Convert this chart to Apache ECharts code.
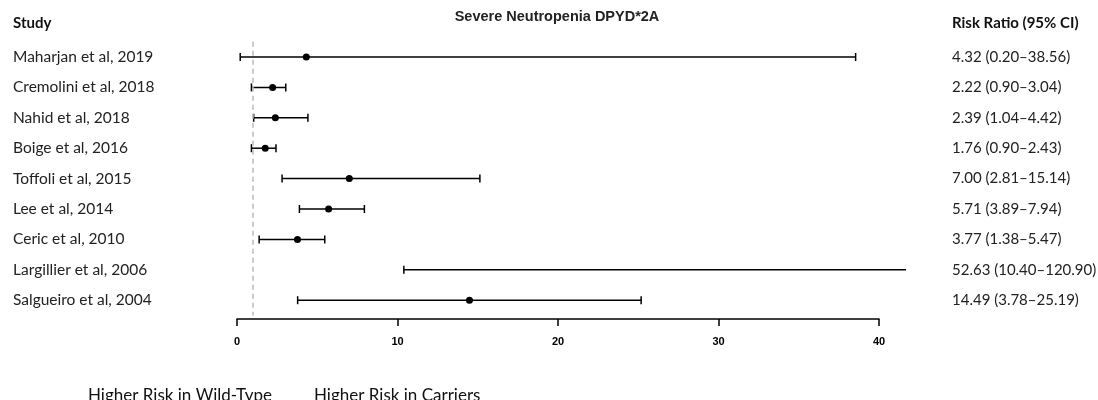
<!DOCTYPE html>
<html><head><meta charset="utf-8">
<script src="https://cdn.jsdelivr.net/npm/echarts@6/dist/echarts.min.js"></script>
<style>html,body{margin:0;padding:0;background:#fff}#c{width:1098px;height:400px}</style>
</head><body><div id="c"></div>
<script>
const studies = ["Maharjan et al, 2019","Cremolini et al, 2018","Nahid et al, 2018","Boige et al, 2016","Toffoli et al, 2015","Lee et al, 2014","Ceric et al, 2010","Largillier et al, 2006","Salgueiro et al, 2004"];
const riskRatio = [4.32, 2.22, 2.39, 1.76, 7.00, 5.71, 3.77, 52.63, 14.49];
const ciLower = [0.20, 0.90, 1.04, 0.90, 2.81, 3.89, 1.38, 10.40, 3.78];
const ciUpper = [38.56, 3.04, 4.42, 2.43, 15.14, 7.94, 5.47, 120.90, 25.19];
const ciLabels = ["4.32 (0.20\u201338.56)","2.22 (0.90\u20133.04)","2.39 (1.04\u20134.42)","1.76 (0.90\u20132.43)","7.00 (2.81\u201315.14)","5.71 (3.89\u20137.94)","3.77 (1.38\u20135.47)","52.63 (10.40\u2013120.90)","14.49 (3.78\u201325.19)"];
const xTicks = [0, 10, 20, 30, 40];
const plotMax = 41.7;   // visible extent of the CI lines
const refValue = 1;

const calibri = "Lato, 'Open Sans', sans-serif";
const data = studies.map((s, i) => [i, riskRatio[i], ciLower[i], ciUpper[i]]);

const chart = echarts.init(document.getElementById('c'), null, {renderer: 'canvas'});
chart.setOption({
  animation: false,
  backgroundColor: '#fff',
  title: [
    {text: 'Severe Neutropenia DPYD*2A', left: 557, top: 9, padding: 0, textAlign: 'center',
     textStyle: {fontFamily: "'Liberation Sans', Arial, sans-serif", fontWeight: 'bold', fontSize: 14.5, color: '#222'}},
    {text: 'Study', left: 13, top: 16, padding: 0, textStyle: {fontFamily: calibri, fontWeight: 'bold', fontSize: 15, color: '#111'}},
    {text: 'Risk Ratio (95% CI)', left: 952, top: 16, padding: 0, textStyle: {fontFamily: calibri, fontWeight: 'bold', fontSize: 15, color: '#111'}}
  ],
  graphic: [
    {type: 'text', left: 88, top: 387, style: {text: 'Higher Risk in Wild-Type', font: "17px Lato, 'Open Sans', sans-serif", fill: '#111'}},
    {type: 'text', left: 314, top: 387, style: {text: 'Higher Risk in Carriers', font: "17px Lato, 'Open Sans', sans-serif", fill: '#111'}}
  ],
  grid: [
    {left: 237, width: 669, top: 41.8, height: 273.6, outerBoundsMode: 'none', containLabel: false},
    {left: 237, width: 642, top: 300, height: 19, outerBoundsMode: 'none', containLabel: false}
  ],
  xAxis: [
    {gridIndex: 0, type: 'value', min: 0, max: plotMax, show: false},
    {gridIndex: 1, type: 'value', min: xTicks[0], max: xTicks[xTicks.length - 1], interval: 10,
     axisLine: {show: true, lineStyle: {color: '#000', width: 1.5}},
     axisTick: {show: true, length: 7, inside: false, lineStyle: {color: '#000', width: 1.5}},
     axisLabel: {margin: 17, fontFamily: "'Liberation Sans', Arial, sans-serif", fontWeight: 'bold', fontSize: 11, color: '#000'},
     splitLine: {show: false}}
  ],
  yAxis: [
    {gridIndex: 0, type: 'category', data: studies, inverse: true, position: 'left',
     axisLine: {show: false}, axisTick: {show: false}, splitLine: {show: false},
     axisLabel: {align: 'left', margin: 224, fontFamily: calibri, fontSize: 15.5, color: '#222'}},
    {gridIndex: 0, type: 'category', data: ciLabels, inverse: true, position: 'right',
     axisLine: {show: false}, axisTick: {show: false}, splitLine: {show: false},
     axisLabel: {align: 'left', margin: 46, fontFamily: calibri, fontSize: 15, color: '#222'}},
    {gridIndex: 1, type: 'value', show: false, min: 0, max: 1}
  ],
  series: [{
    type: 'custom',
    xAxisIndex: 0, yAxisIndex: 0,
    data: data,
    clip: false,
    renderItem: function (params, api) {
      const idx = api.value(0), rr = api.value(1), lo = api.value(2), hi = api.value(3);
      const y = api.coord([0, idx])[1];
      const loC = Math.max(lo, 0), hiC = Math.min(hi, plotMax);
      const x0 = api.coord([loC, idx])[0], x1 = api.coord([hiC, idx])[0];
      const st = {stroke: '#000', lineWidth: 1.5};
      const ch = [{type: 'line', shape: {x1: x0, y1: y, x2: x1, y2: y}, style: st}];
      const cap = 4;
      if (lo >= 0) ch.push({type: 'line', shape: {x1: x0, y1: y - cap, x2: x0, y2: y + cap}, style: st});
      if (hi <= plotMax) ch.push({type: 'line', shape: {x1: x1, y1: y - cap, x2: x1, y2: y + cap}, style: st});
      if (rr <= plotMax) {
        const xp = api.coord([rr, idx])[0];
        ch.push({type: 'circle', shape: {cx: xp, cy: y, r: 3.5}, style: {fill: '#000'}});
      }
      return {type: 'group', children: ch};
    },
    markLine: {
      silent: true, symbol: 'none', label: {show: false},
      lineStyle: {color: '#bbb', type: [5, 4], width: 1.5},
      data: [{xAxis: refValue}]
    }
  }]
});
</script></body></html>
